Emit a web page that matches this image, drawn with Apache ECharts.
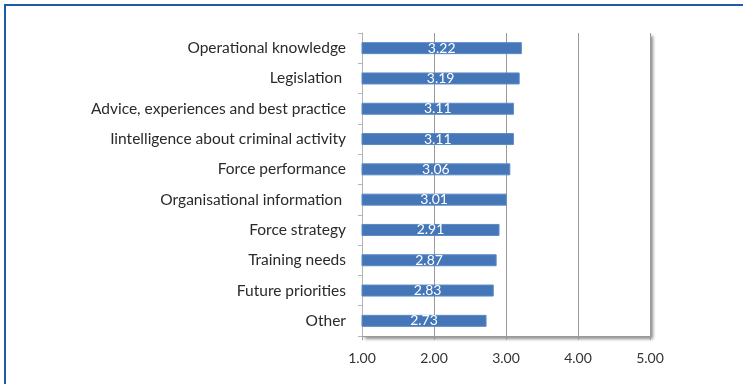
<!DOCTYPE html>
<html>
<head>
<meta charset="utf-8">
<script src="https://cdn.jsdelivr.net/npm/echarts@6/dist/echarts.min.js"></script>
<style>
  html, body { margin: 0; padding: 0; background: #fff; }
  #chart { width: 743px; height: 384px; }
</style>
</head>
<body>
<div id="chart"></div>
<script>
// Mean usefulness rating per type of information (scale 1–5)
const categories = [
  'Operational knowledge',
  'Legislation ',
  'Advice, experiences and best practice',
  'Iintelligence about criminal activity',
  'Force performance',
  'Organisational information ',
  'Force strategy',
  'Training needs',
  'Future priorities',
  'Other'
];
const scores = [3.22, 3.19, 3.11, 3.11, 3.06, 3.01, 2.91, 2.87, 2.83, 2.73];
const axisMin = 1;
const axisMax = 5;
const axisStep = 1;

const chart = echarts.init(document.getElementById('chart'), null, { renderer: 'canvas' });

const fontFamily = 'Lato, "Open Sans", sans-serif';

chart.setOption({
  animation: false,
  backgroundColor: '#ffffff',
  graphic: [{
    type: 'rect',
    shape: { x: 5, y: 5, width: 760, height: 400 },
    style: { fill: 'none', stroke: '#1d5ca8', lineWidth: 2 },
    z: 100
  }],
  grid: {
    left: 362,
    right: 93,
    top: 33,
    bottom: 48,
    show: true,
    backgroundColor: '#ffffff',
    borderWidth: 0,
    shadowColor: 'rgba(0,0,0,0.45)',
    shadowBlur: 3,
    shadowOffsetX: 3,
    shadowOffsetY: 3
  },
  xAxis: {
    type: 'value',
    min: axisMin,
    max: axisMax,
    interval: axisStep,
    axisLine: { show: true, lineStyle: { color: '#9a9a9a', width: 1 } },
    axisTick: { show: true, length: 4, lineStyle: { color: '#9a9a9a' } },
    splitLine: { show: true, lineStyle: { color: '#9a9a9a', width: 1 } },
    axisLabel: {
      color: '#333333',
      fontFamily: fontFamily,
      fontSize: 14,
      margin: 15,
      formatter: v => v.toFixed(2)
    }
  },
  yAxis: {
    type: 'category',
    data: categories,
    inverse: true,
    axisLine: { show: true, lineStyle: { color: '#b4b4b4', width: 1 } },
    axisTick: { show: true, length: 4, alignWithLabel: false, lineStyle: { color: '#b4b4b4' } },
    axisLabel: {
      color: '#2a2a2a',
      fontFamily: fontFamily,
      fontSize: 15.5,
      margin: 16
    }
  },
  series: [{
    type: 'bar',
    data: scores,
    barWidth: 12,
    itemStyle: { color: '#4577b8', borderColor: '#5a8ac6', borderWidth: 1 },
    label: {
      show: true,
      position: 'inside',
      color: '#ffffff',
      fontFamily: fontFamily,
      fontSize: 14,
      formatter: p => p.value.toFixed(2)
    }
  }]
});
</script>
</body>
</html>
